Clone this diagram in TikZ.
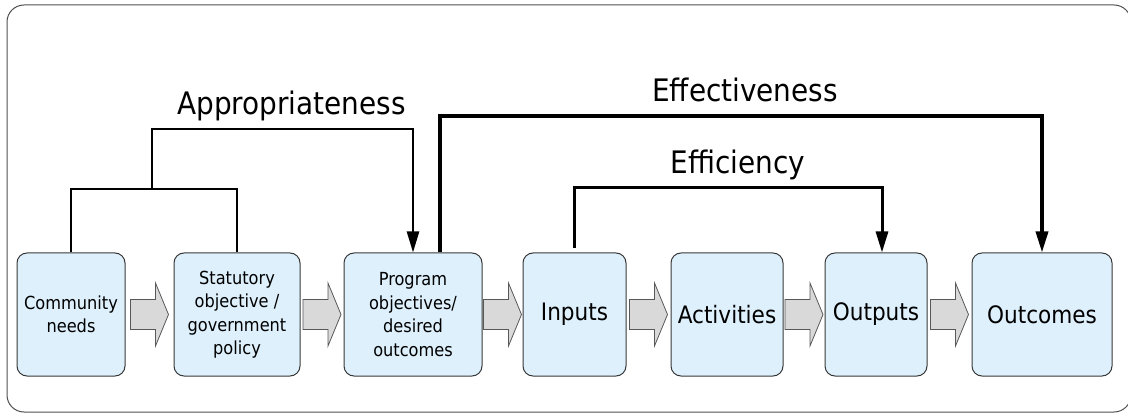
\documentclass[tikz,border=0pt]{standalone}
\usepackage{fontspec}
\setmainfont{DejaVu Sans Condensed}
\usetikzlibrary{arrows.meta,calc}
\definecolor{boxfill}{HTML}{DDF0FC}
\definecolor{boxline}{HTML}{383838}
\definecolor{blkfill}{HTML}{D9D9D9}
\definecolor{blkline}{HTML}{585858}
\definecolor{framecol}{HTML}{505050}

\begin{document}
\begin{tikzpicture}[x=1pt,y=-1pt,
  stage/.style={draw=boxline, line width=1pt, fill=boxfill, rounded corners=10pt,
                minimum height=123pt, inner sep=0pt, align=center},
  small/.style={font=\fontsize{18}{23.5}\selectfont},
  large/.style={font=\fontsize{24}{28}\selectfont},
  heading/.style={font=\fontsize{31}{34}\selectfont, anchor=base, inner sep=0pt},
  link/.style={line width=#1},
  link/.default=2.5pt,
  tip/.style={-{Triangle[length=21pt,width=12pt]}},
  flow/.pic={\path[fill=blkfill,draw=blkline,line width=0.8pt]
      (-19,-15) -- (6,-15) -- (6,-31.5) -- (19,0) -- (6,31.5) -- (6,15) -- (-19,15) -- cycle;}
]
\useasboundingbox (0,0) rectangle (1128,414);

% outer frame
\begin{scope}
  \clip (0,0) rectangle (1128,414);
  \draw[framecol, line width=1pt, rounded corners=17pt] (7,5) rectangle (1131,412);
\end{scope}

% stages of the program logic
\node[stage, small, minimum width=108pt] (b1) at (71,314.5) {Community\\needs};
\node[stage, small, minimum width=126pt] (b2) at (237,314.5) {Statutory\\objective /\\government\\policy};
\node[stage, small, minimum width=138pt] (b3) at (413,314.5) {Program\\objectives/\\desired\\outcomes};
\node[stage, large, minimum width=103pt] (b4) at (574.5,314.5) {Inputs};
\node[stage, large, minimum width=112pt] (b5) at (727,314.5) {Activities};
\node[stage, large, minimum width=102pt] (b6) at (876,314.5) {Outputs};
\node[stage, large, minimum width=140pt] (b7) at (1042,314.5) {Outcomes};

% block arrows between stages
\pic at ($(b1.east)!0.5!(b2.west)$) {flow};
\pic at ($(b2.east)!0.5!(b3.west)$) {flow};
\pic at ($(b3.east)!0.5!(b4.west)$) {flow};
\pic at ($(b4.east)!0.5!(b5.west)$) {flow};
\pic at ($(b5.east)!0.5!(b6.west)$) {flow};
\pic at ($(b6.east)!0.5!(b7.west)$) {flow};

% junction points of the bracket connectors
\coordinate (ja) at (152,189);
\coordinate (jb) at (291,129);
\coordinate (je) at (745,116);
\coordinate (jf) at (738,188);

% Appropriateness
\draw[link] (b1.north) |- (ja) -| (b2.north);
\draw[link, tip] (ja) |- (jb) -| (b3.north);
\node[heading] (lapp) at (291.5,115) {Appropriateness};

% Effectiveness
\draw[link=3.5pt, tip] ([xshift=27pt]b3.north) |- (je) -| (b7.north);
\node[heading] (leff) at (745,102) {Effectiveness};

% Efficiency
\draw[link=3pt, tip, shorten <=4pt] (b4.north) |- (jf) -| ([xshift=6pt]b6.north);
\node[heading] (lefc) at (738,174) {Efficiency};
\end{tikzpicture}
\end{document}
